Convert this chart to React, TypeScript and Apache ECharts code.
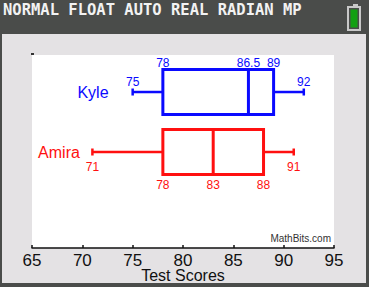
import React, { useEffect, useRef } from "react";
import * as echarts from "echarts";

// Five-number summaries of the test scores
const players = ["Kyle", "Amira"];
const minScores = [75, 71];
const q1Scores = [78, 78];
const medianScores = [86.5, 83];
const q3Scores = [89, 88];
const maxScores = [92, 91];

// Axis range and tick step for the score axis
const scoreMin = 65;
const scoreMax = 95;
const scoreStep = 5;

// Per-row drawing style: colour, where the value labels sit, x of the row name
const rowStyles = [
  { color: "#0a0aff", labelsAbove: true, nameX: 93 },
  { color: "#ff1010", labelsAbove: false, nameX: 59 },
];

const FONT = "Liberation Sans, Arial, sans-serif";

export default function App() {
  const ref = useRef<HTMLDivElement>(null);

  useEffect(() => {
    if (!ref.current) return;
    const chart = echarts.init(ref.current, undefined, { renderer: "svg" });

    // rows stacked from the top: first player on the upper row
    const data = players.map((_, i) => [
      players.length - 1 - i,
      minScores[i],
      q1Scores[i],
      medianScores[i],
      q3Scores[i],
      maxScores[i],
    ]);

    const renderItem = (params: any, api: any) => {
      const i = params.dataIndex;
      const st = rowStyles[i];
      const row = api.value(0);
      const vals = [1, 2, 3, 4, 5].map((k) => api.value(k));
      const pts = vals.map((v) => api.coord([v, row]));
      const y = pts[0][1];
      const [xMin, xQ1, xMed, xQ3, xMax] = pts.map((p: number[]) => p[0]);
      const boxH = 45;
      const capH = 7;
      const c = st.color;
      const lineStyle = { stroke: c, lineWidth: 2.5, fill: "none" };
      const boxStyle = { stroke: c, lineWidth: 3, fill: "none" };
      const fmt = (v: number) => String(v);

      const label = (x: number, ly: number, v: number, va: string) => ({
        type: "text",
        style: {
          x,
          y: ly,
          text: fmt(v),
          fill: c,
          font: `12px ${FONT}`,
          align: "center",
          verticalAlign: va,
        },
      });

      const top = y - boxH / 2;
      const bottom = y + boxH / 2;
      const labels = st.labelsAbove
        ? [
            label(xQ1, top - 1, vals[1], "bottom"),
            label(xMed, top - 1, vals[2], "bottom"),
            label(xQ3, top - 1, vals[3], "bottom"),
            label(xMin, y - 10, vals[0], "middle"),
            label(xMax, y - 10, vals[4], "middle"),
          ]
        : [
            label(xQ1, bottom + 10, vals[1], "middle"),
            label(xMed, bottom + 10, vals[2], "middle"),
            label(xQ3, bottom + 10, vals[3], "middle"),
            label(xMin, y + 15, vals[0], "middle"),
            label(xMax, y + 15, vals[4], "middle"),
          ];

      return {
        type: "group",
        children: [
          { type: "line", shape: { x1: xMin, y1: y, x2: xQ1, y2: y }, style: lineStyle },
          { type: "line", shape: { x1: xQ3, y1: y, x2: xMax, y2: y }, style: lineStyle },
          { type: "line", shape: { x1: xMin, y1: y - capH / 2, x2: xMin, y2: y + capH / 2 }, style: lineStyle },
          { type: "line", shape: { x1: xMax, y1: y - capH / 2, x2: xMax, y2: y + capH / 2 }, style: lineStyle },
          { type: "rect", shape: { x: xQ1, y: top, width: xQ3 - xQ1, height: boxH }, style: boxStyle },
          { type: "line", shape: { x1: xMed, y1: top, x2: xMed, y2: bottom }, style: boxStyle },
          ...labels,
          {
            type: "text",
            style: {
              x: st.nameX,
              y,
              text: players[i],
              fill: c,
              font: `16px ${FONT}`,
              align: "center",
              verticalAlign: "middle",
            },
          },
        ],
      };
    };

    chart.setOption({
      animation: false,
      grid: {
        left: 32,
        right: 35,
        top: 55,
        bottom: 39,
        show: true,
        backgroundColor: "#ffffff",
        borderWidth: 0,
        outerBoundsMode: "none",
        containLabel: false,
      },
      xAxis: {
        type: "value",
        min: scoreMin,
        max: scoreMax,
        interval: scoreStep,
        name: "Test Scores",
        nameLocation: "middle",
        nameGap: 27,
        nameMoveOverlap: false,
        nameTextStyle: {
          color: "#111",
          fontSize: 16,
          fontFamily: FONT,
          lineHeight: 12,
          verticalAlign: "middle",
        },
        axisLine: { onZero: false, lineStyle: { color: "#111", width: 1.5 } },
        axisTick: { inside: true, length: 3, lineStyle: { color: "#111", width: 1.5 } },
        axisLabel: {
          color: "#111",
          fontSize: 17,
          fontFamily: FONT,
          lineHeight: 12,
          margin: 6,
        },
        splitLine: { show: false },
      },
      yAxis: {
        type: "value",
        min: -1.6,
        max: 1.617,
        show: false,
      },
      graphic: [
        // status line of the calculator screen
        {
          type: "text",
          left: 3,
          top: 2,
          style: {
            text: "NORMAL FLOAT AUTO REAL RADIAN MP",
            fill: "#f2f2f2",
            font: "bold 15.5px 'DejaVu Sans Mono', monospace",
          },
        },
        // battery indicator
        { type: "rect", shape: { x: 353, y: 4, width: 5, height: 3 }, style: { fill: "#c8c8c8" } },
        { type: "rect", shape: { x: 348, y: 7, width: 12, height: 23 }, style: { fill: "none", stroke: "#c8c8c8", lineWidth: 2 } },
        { type: "rect", shape: { x: 350.5, y: 9.5, width: 7, height: 18 }, style: { fill: "#12a012" } },
        // small y-axis tick at the top-left of the plot
        { type: "rect", shape: { x: 31, y: 53, width: 3, height: 2 }, style: { fill: "#333" } },
        // watermark
        {
          type: "text",
          style: {
            x: 331,
            y: 238,
            text: "MathBits.com",
            fill: "#333",
            font: `10px ${FONT}`,
            align: "right",
            verticalAlign: "middle",
          },
        },
      ],
      series: [
        {
          type: "custom",
          renderItem,
          encode: { x: [1, 2, 3, 4, 5], y: 0 },
          data,
        },
      ],
    });

    return () => chart.dispose();
  }, []);

  return (
    <div
      style={{
        position: "fixed",
        left: 0,
        top: 0,
        width: 369,
        height: 287,
        background: "#4a4c4a",
      }}
    >
      <div
        style={{
          position: "absolute",
          left: 2,
          top: 34,
          width: 364,
          height: 249,
          background: "#e4e2e4",
        }}
      />
      <div
        ref={ref}
        style={{ position: "absolute", left: 0, top: 0, width: 369, height: 287 }}
      />
    </div>
  );
}
